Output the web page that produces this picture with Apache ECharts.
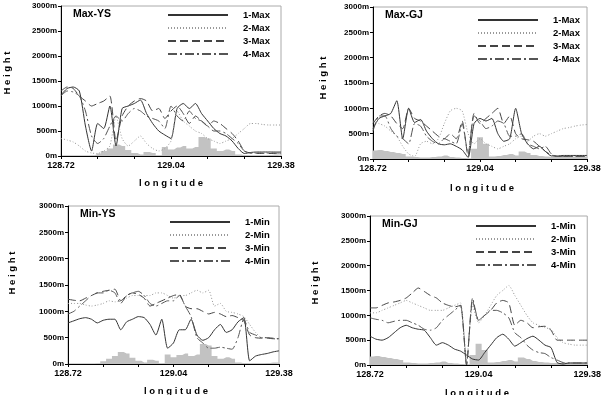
<!DOCTYPE html>
<html>
<head>
<meta charset="utf-8">
<script src="https://cdn.jsdelivr.net/npm/echarts@6/dist/echarts.min.js"></script>
<style>
  html, body { margin: 0; padding: 0; background: #fff; }
  #chart { width: 604px; height: 395px; }
</style>
</head>
<body>
<div id="chart"></div>
<script>
// x positions are sample indices 0..36, labelled only at 0, 18 and 36
const tickLabels = ['128.72', '129.04', '129.38'];

// terrain (grey blocks), shared by the two panels of each river
const terrainYS = [0, 0, 0, 0, 0, 10, 50, 100, 150, 230, 200, 120, 60, 30, 80, 60, 10, 180, 130, 170, 200, 150, 180, 380, 350, 150, 100, 130, 100, 30, 15, 10, 10, 10, 20, 30, 30];
const terrainGJ = [170, 180, 160, 140, 120, 100, 50, 40, 30, 30, 40, 50, 70, 40, 30, 20, 0, 200, 430, 300, 50, 60, 80, 100, 70, 150, 120, 80, 60, 50, 40, 40, 50, 50, 50, 50, 50];

// Max-YS
const ysMax1 = [1220, 1350, 1380, 1300, 600, 100, 650, 550, 1000, 200, 950, 1000, 1050, 1120, 850, 650, 500, 420, 350, 950, 1050, 950, 1050, 850, 700, 550, 450, 400, 300, 150, 50, 70, 80, 80, 80, 80, 80];
const ysMax2 = [350, 320, 280, 200, 100, 60, 50, 100, 200, 800, 350, 200, 300, 400, 250, 150, 100, 150, 300, 900, 700, 600, 500, 450, 350, 300, 250, 300, 350, 450, 550, 650, 650, 630, 620, 620, 620];
const ysMax3 = [1300, 1380, 1350, 1200, 1100, 1000, 1050, 1100, 1200, 300, 800, 1000, 1100, 1150, 1100, 900, 950, 750, 900, 1000, 850, 650, 800, 700, 600, 700, 650, 550, 450, 300, 100, 60, 50, 50, 50, 50, 50];
const ysMax4 = [1200, 1300, 1280, 1200, 900, 400, 250, 350, 600, 800, 700, 850, 950, 900, 800, 750, 700, 550, 1000, 800, 700, 900, 750, 700, 600, 500, 500, 450, 350, 250, 100, 60, 60, 60, 60, 60, 60];

// Max-GJ
const gjMax1 = [600, 800, 850, 900, 1150, 400, 1000, 720, 780, 550, 400, 300, 280, 300, 250, 180, 30, 700, 800, 750, 800, 500, 350, 400, 1000, 500, 300, 200, 250, 150, 60, 60, 70, 70, 70, 70, 70];
const gjMax2 = [750, 700, 650, 550, 450, 250, 100, 50, 300, 350, 300, 400, 700, 950, 1000, 950, 500, 300, 400, 300, 250, 200, 250, 300, 400, 450, 350, 450, 500, 450, 500, 550, 600, 620, 650, 670, 680];
const gjMax3 = [700, 850, 900, 850, 700, 600, 1000, 800, 750, 650, 550, 450, 400, 500, 400, 750, 50, 900, 700, 800, 900, 1000, 700, 850, 500, 400, 380, 350, 250, 150, 80, 50, 50, 50, 50, 50, 50];
const gjMax4 = [550, 850, 850, 600, 450, 400, 300, 700, 650, 450, 350, 300, 400, 350, 300, 700, 100, 850, 750, 600, 650, 750, 700, 450, 450, 500, 300, 250, 200, 250, 100, 50, 50, 50, 50, 50, 50];

// Min-YS
const ysMin1 = [780, 820, 860, 880, 850, 780, 830, 850, 850, 650, 800, 850, 900, 880, 750, 550, 850, 300, 400, 650, 650, 850, 550, 450, 500, 650, 750, 600, 650, 800, 880, 60, 150, 180, 200, 230, 250];
const ysMin2 = [1150, 1150, 1150, 1120, 1100, 1120, 1150, 1200, 1180, 1200, 1250, 1300, 1300, 1300, 1300, 1350, 1350, 1300, 1250, 1300, 1300, 1350, 1400, 1350, 1400, 1100, 1150, 1000, 980, 950, 900, 750, 600, 500, 500, 480, 470];
const ysMin3 = [1230, 1210, 1200, 1250, 1300, 1350, 1380, 1400, 1420, 1200, 1300, 1350, 1320, 1250, 1100, 1150, 1200, 1250, 1300, 1320, 1100, 1050, 1050, 1000, 950, 980, 950, 900, 920, 880, 820, 550, 500, 490, 490, 480, 480];
const ysMin4 = [950, 1000, 1100, 1200, 1300, 1350, 1350, 1400, 1350, 1150, 1300, 1350, 1380, 1300, 1150, 1100, 1150, 1200, 1200, 1300, 1100, 900, 500, 400, 300, 300, 320, 300, 280, 500, 850, 600, 550, 500, 500, 490, 480];

// Min-GJ
const gjMin1 = [580, 520, 500, 550, 650, 750, 800, 750, 720, 700, 550, 400, 450, 400, 320, 280, 200, 120, 100, 250, 400, 550, 620, 520, 380, 450, 530, 580, 500, 400, 350, 50, 20, 40, 40, 40, 40];
const gjMin2 = [1050, 1050, 1100, 1150, 1200, 1250, 1300, 1250, 1200, 1150, 1100, 1100, 1100, 1150, 1200, 1250, 100, 1200, 850, 1000, 1200, 1400, 1500, 1600, 1400, 1200, 1000, 850, 800, 750, 720, 550, 450, 420, 400, 400, 400];
const gjMin3 = [1150, 1150, 1200, 1250, 1270, 1300, 1350, 1450, 1550, 1480, 1400, 1350, 1250, 1200, 1170, 1200, 0, 1300, 900, 1000, 1100, 1250, 1300, 1250, 800, 900, 850, 750, 770, 780, 700, 500, 500, 500, 500, 500, 500];
const gjMin4 = [950, 920, 900, 850, 880, 900, 900, 850, 800, 720, 700, 750, 900, 1000, 1100, 1200, 0, 1350, 900, 1000, 1100, 1100, 1050, 950, 650, 550, 400, 300, 250, 230, 150, 100, 50, 40, 40, 40, 40];

const panels = [
    { title: 'Max-YS', tag: 'Max', terrain: terrainYS, lines: [ysMax1, ysMax2, ysMax3, ysMax4],
      grid: { left: 61, top: 6, width: 220, height: 150 }, legend: { left: 162, top: 5 } },
    { title: 'Max-GJ', tag: 'Max', terrain: terrainGJ, lines: [gjMax1, gjMax2, gjMax3, gjMax4],
      grid: { left: 373, top: 7, width: 214, height: 152 }, legend: { left: 472, top: 10 } },
    { title: 'Min-YS', tag: 'Min', terrain: terrainYS, lines: [ysMin1, ysMin2, ysMin3, ysMin4],
      grid: { left: 68, top: 206, width: 211, height: 158 }, legend: { left: 164, top: 212 } },
    { title: 'Min-GJ', tag: 'Min', terrain: terrainGJ, lines: [gjMin1, gjMin2, gjMin3, gjMin4],
      grid: { left: 370, top: 216, width: 219, height: 149 }, legend: { left: 470, top: 216 } }
];

const lineStyles = [
    { color: '#333', width: 1, type: 'solid' },
    { color: '#999', width: 1, type: [1, 2] },
    { color: '#444', width: 1, type: [8, 4] },
    { color: '#555', width: 1, type: [9, 3, 2, 3] }
];

const boldFont = '"Liberation Sans", Arial, sans-serif';
const narrowFont = '"Liberation Sans Narrow", "Liberation Sans", Arial, sans-serif';

const toXY = arr => arr.map((v, i) => [i, v]);

const option = {
    animation: false,
    backgroundColor: '#fff',
    grid: [], xAxis: [], yAxis: [], series: [], legend: [], graphic: []
};

panels.forEach((p, k) => {
    option.grid.push(Object.assign({ show: true, borderColor: '#aaa', borderWidth: 1, containLabel: false }, p.grid));
    option.xAxis.push({
        type: 'value', gridIndex: k, min: 0, max: 36, interval: 6,
        axisLine: { show: true, lineStyle: { color: '#000', width: 1 } },
        axisTick: { show: true, length: 3, lineStyle: { color: '#000' } },
        splitLine: { show: false },
        axisLabel: {
            margin: 5, fontSize: 9, fontWeight: 'bold', color: '#000', fontFamily: boldFont,
            formatter: v => (v % 18 === 0 ? tickLabels[v / 18] : '')
        }
    });
    option.yAxis.push({
        type: 'value', gridIndex: k, min: 0, max: 3000, interval: 500,
        axisLine: { show: true, lineStyle: { color: '#000', width: 1 } },
        axisTick: { show: true, length: 3, lineStyle: { color: '#000' } },
        splitLine: { show: false },
        axisLabel: { margin: 4, fontSize: 8, fontWeight: 'bold', color: '#000', fontFamily: narrowFont,
                     formatter: v => v + 'm' }
    });

    // terrain drawn as grey steps under the lines
    option.series.push({
        type: 'line', xAxisIndex: k, yAxisIndex: k, data: toXY(p.terrain),
        step: 'middle', symbol: 'none', silent: true, z: 1,
        lineStyle: { width: 0 }, areaStyle: { color: '#c2c2c2', opacity: 1 }
    });

    const names = [];
    p.lines.forEach((vals, j) => {
        const name = (j + 1) + '-' + p.tag;
        names.push(name);
        option.series.push({
            name: name, type: 'line', xAxisIndex: k, yAxisIndex: k, data: toXY(vals),
            symbol: 'none', showSymbol: false, smooth: 0.2, z: 3,
            color: lineStyles[j].color, lineStyle: lineStyles[j]
        });
    });

    option.legend.push({
        data: names, orient: 'vertical', left: p.legend.left, top: p.legend.top,
        itemWidth: 60, itemHeight: 9, itemGap: 3, selectedMode: false,
        itemStyle: { opacity: 0 },
        textStyle: { fontSize: 9.5, fontWeight: 'bold', color: '#000', fontFamily: boldFont, padding: [0, 0, 0, 10] }
    });

    // panel title inside the plot
    option.graphic.push({
        type: 'text', left: p.grid.left + 12, top: p.grid.top + 3,
        style: { text: p.title, fontSize: 10.5, fontWeight: 'bold', fill: '#000', fontFamily: boldFont }
    });
});

// axis names, letter spaced like the original
const axisNames = [
    { x: 171, y: 183, h: 7, hy: 73 },
    { x: 482, y: 188, h: 323, hy: 78 },
    { x: 176, y: 391, h: 12, hy: 273 },
    { x: 477, y: 393, h: 315, hy: 283 }
];
axisNames.forEach(a => {
    option.graphic.push({
        type: 'text', x: a.x, y: a.y,
        style: { text: 'l o n g i t u d e', fontSize: 9.5, fontWeight: 'bold', fill: '#000',
                 fontFamily: boldFont, align: 'center', verticalAlign: 'middle' }
    });
    option.graphic.push({
        type: 'text', x: a.h, y: a.hy, rotation: Math.PI / 2,
        style: { text: 'H e i g h t', fontSize: 9.5, fontWeight: 'bold', fill: '#000',
                 fontFamily: boldFont, align: 'center', verticalAlign: 'middle' }
    });
});

const myChart = echarts.init(document.getElementById('chart'), null, { renderer: 'canvas' });
myChart.setOption(option);
</script>
</body>
</html>
